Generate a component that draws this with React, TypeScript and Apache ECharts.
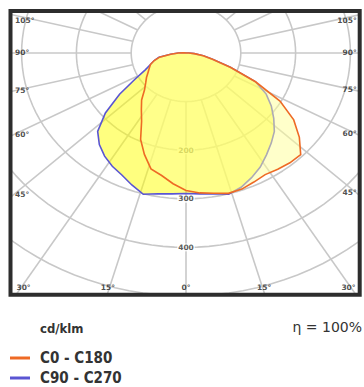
import React, { useEffect, useRef } from "react";
import * as echarts from "echarts";

// ---- data (cd/klm) ----
const gammaDeg = [0, 5, 10, 15, 20, 25, 30, 35, 40, 45, 50, 55, 60, 65, 70, 75, 80, 85, 90, 95, 100];
// C0 - C180 (orange)
const c0 = [283, 289, 293, 299, 298, 293, 289, 292, 295, 296, 270, 240, 198, 140, 87, 50, 32, 15, 5, 0, 0];
const c180 = [283, 270, 256, 247, 222, 196, 162, 142, 126, 107, 96, 88, 80, 74, 69, 60, 49, 28, 14, 4, 0];
// C90 - C270 (blue)
const c90 = [289, 291, 294, 301, 294, 283, 271, 256, 242, 228, 209, 190, 169, 140, 86, 50, 32, 15, 5, 0, 0];
const c270 = [289, 291, 294, 301, 289, 277, 269, 259, 246, 228, 192, 148, 107, 82, 69, 60, 50, 28, 14, 5, 0];

const ringValues = [100, 200, 300, 400, 500];
const ringLabelValues = [200, 300, 400];
const spokeAngles = [0, 15, 30, 45, 60, 75, 90, 105, 120, 135, 150, 165, 180];
const angleLabelAngles = [0, 15, 30, 45, 60, 75, 90, 105];
const seriesNames = ["C0 - C180", "C90 - C270"];

const ORANGE = "#ee6a25";
const BLUE = "#5a55d2";
const GRIDC = "#c8c8c8";
const COND = "'DejaVu Sans Condensed', 'DejaVu Sans', sans-serif";

// ---- layout ----
const GL = 12.7, GT = 12.7, GW = 345, GH = 280;
const CX = 186, CY = 53, SX = 0.548, SY = 0.486;
const xMin = -(CX - GL) / SX;
const xMax = (GL + GW - CX) / SX;
const yMin = -(CY - GT) / SY;
const yMax = (GT + GH - CY) / SY;
const KX = 1.08;

const rad = (d: number) => (d * Math.PI) / 180;

function polygon(left: number[], right: number[]) {
  const pts: number[][] = [];
  for (let i = gammaDeg.length - 1; i >= 0; i--) {
    const g = rad(gammaDeg[i]);
    pts.push([-left[i] * Math.sin(g), left[i] * Math.cos(g)]);
  }
  for (let i = 1; i < gammaDeg.length; i++) {
    const g = rad(gammaDeg[i]);
    pts.push([right[i] * Math.sin(g), right[i] * Math.cos(g)]);
  }
  return pts;
}

function ring(r: number) {
  const pts: number[][] = [];
  for (let a = 0; a <= 360; a += 3) pts.push([r * Math.sin(rad(a)), r * Math.cos(rad(a))]);
  return pts;
}

function spokes() {
  const out: any[] = [];
  spokeAngles.forEach((a) => {
    const sides = a === 0 || a === 180 ? [1] : [-1, 1];
    sides.forEach((s) => {
      const dx = s * KX * Math.sin(rad(a));
      const dy = Math.cos(rad(a));
      const n = Math.hypot(dx, dy);
      const t0 = ringValues[0] / n;
      const t1 = 1200 / n;
      out.push({ coords: [[dx * t0, dy * t0], [dx * t1, dy * t1]] });
    });
  });
  return out;
}

function angleLabels() {
  const out: any[] = [];
  angleLabelAngles.forEach((a) => {
    const sides = a === 0 ? [1] : [-1, 1];
    sides.forEach((s) => {
      const dx = s * KX * Math.sin(rad(a));
      const dy = Math.cos(rad(a));
      const tx = dx > 0 ? xMax / dx : dx < 0 ? xMin / dx : Infinity;
      const ty = dy > 0 ? yMax / dy : dy < 0 ? yMin / dy : Infinity;
      if (tx < ty) {
        const y = Math.max(dy * tx, yMin + 8.8 / SY) - 1 / SY;
        const x = s < 0 ? xMin + 2.3 / SX : xMax - 1 / SX;
        out.push({ value: [x, y], name: a + "°", label: { align: s < 0 ? "left" : "right" } });
      } else {
        const lim = 296.5;
        const x = Math.max(-lim, Math.min(lim, dx * ty));
        out.push({ value: [x, yMax - 5.2 / SY], name: a + "°", label: { align: "center" } });
      }
    });
  });
  return out;
}

export default function App() {
  const ref = useRef<HTMLDivElement>(null);
  useEffect(() => {
    if (!ref.current) return;
    const chart = echarts.init(ref.current, undefined, { renderer: "svg" });
    const bluePts = polygon(c270, c90);
    const orangePts = polygon(c180, c0);

    const polySeries = (name: string, pts: number[][], fill: string, stroke: string) => ({
      type: "custom",
      name,
      coordinateSystem: "cartesian2d",
      data: pts,
      encode: { x: 0, y: 1 },
      silent: true,
      z: 3,
      itemStyle: { color: stroke },
      renderItem: (params: any, api: any) =>
        params.dataIndex === 0
          ? {
              type: "polygon",
              shape: { points: pts.map((p) => api.coord(p)) },
              style: { fill, stroke, lineWidth: 1.6 },
            }
          : null,
    });

    const option: any = {
      animation: false,
      backgroundColor: "#ffffff",
      grid: { left: GL, top: GT, width: GW, height: GH },
      xAxis: { type: "value", min: xMin, max: xMax, show: false, splitLine: { show: false } },
      yAxis: { type: "value", min: yMin, max: yMax, inverse: true, show: false, splitLine: { show: false } },
      legend: {
        data: [
          { name: seriesNames[0], icon: "rect", itemStyle: { color: ORANGE } },
          { name: seriesNames[1], icon: "rect", itemStyle: { color: BLUE } },
        ],
        orient: "vertical",
        left: 10,
        top: 350.5,
        height: 40,
        padding: 0,
        itemWidth: 20,
        itemHeight: 3,
        itemGap: 5,
        selectedMode: false,
        textStyle: {
          fontFamily: COND,
          fontWeight: "bold",
          fontSize: 15,
          color: "#333",
          lineHeight: 15,
          padding: [0, 0, 0, 5],
        },
      },
      series: [
        ...ringValues.map((r) => ({
          type: "line",
          data: ring(r),
          showSymbol: false,
          symbol: "none",
          silent: true,
          clip: true,
          z: 1,
          lineStyle: { color: GRIDC, width: 1.6 },
        })),
        {
          type: "lines",
          coordinateSystem: "cartesian2d",
          data: spokes(),
          silent: true,
          clip: true,
          z: 1,
          lineStyle: { color: GRIDC, width: 1.6, opacity: 1 },
        },
        {
          type: "scatter",
          data: ringLabelValues.map((v) => [0, v]),
          symbolSize: 0,
          silent: true,
          z: 2,
          label: {
            show: true,
            position: "inside",
            formatter: (p: any) => String(p.value[1]),
            fontFamily: "'DejaVu Sans', sans-serif",
            fontWeight: "bold",
            fontSize: 7.5,
            color: "#333",
            backgroundColor: "#ffffff",
            padding: [0, 1],
          },
        },
        polySeries(seriesNames[1], bluePts, "rgba(255,255,0,0.5)", BLUE),
        polySeries(seriesNames[0], orangePts, "rgba(255,255,150,0.5)", ORANGE),
        {
          type: "scatter",
          data: angleLabels(),
          symbolSize: 0,
          silent: true,
          z: 5,
          label: {
            show: true,
            position: "inside",
            verticalAlign: "middle",
            formatter: (p: any) => p.name,
            fontFamily: "'DejaVu Sans', sans-serif",
            fontWeight: "bold",
            fontSize: 7.5,
            color: "#222",
          },
        },
      ],
      graphic: [
        {
          type: "rect",
          shape: { x: 10.5, y: 11, width: 349.2, height: 283.7 },
          style: { fill: "none", stroke: "#2d2d2d", lineWidth: 4 },
          z: 100,
          silent: true,
        },
        {
          type: "text",
          x: 40,
          y: 328,
          style: {
            text: "cd/klm",
            font: `bold 13px ${COND}`,
            fill: "#333",
            align: "left",
            verticalAlign: "middle",
          },
        },
        {
          type: "text",
          x: 362,
          y: 327,
          style: {
            text: "η = 100%",
            font: "14px 'DejaVu Sans', sans-serif",
            fill: "#333",
            align: "right",
            verticalAlign: "middle",
          },
        },
      ],
    };
    chart.setOption(option);
    return () => chart.dispose();
  }, []);
  return (
    <div
      ref={ref}
      style={{ position: "fixed", left: 0, top: 0, width: 364, height: 387, background: "#fff" }}
    />
  );
}
